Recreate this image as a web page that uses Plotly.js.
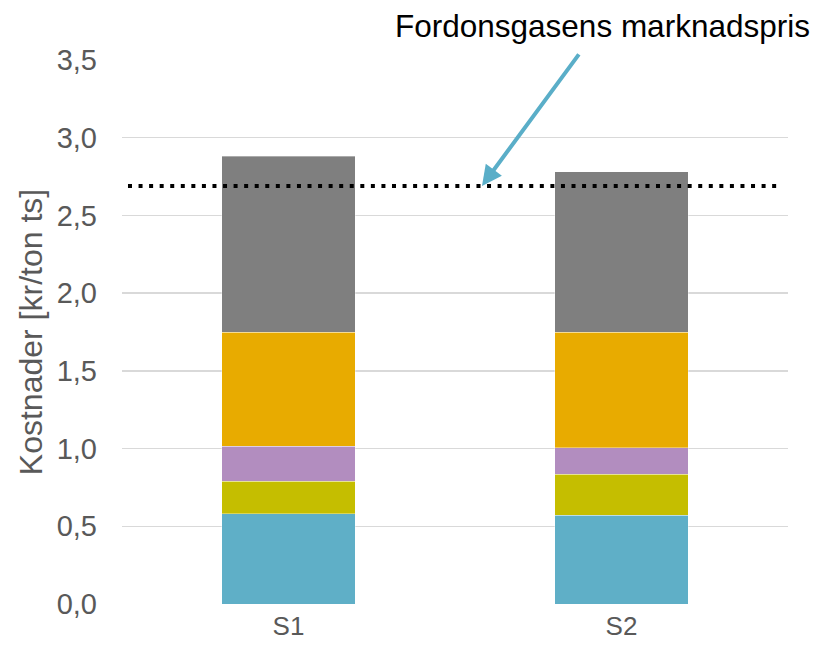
<!DOCTYPE html>
<html>
<head>
<meta charset="utf-8">
<script src="https://cdn.plot.ly/plotly-3.0.1.min.js"></script>
<style>html,body{margin:0;padding:0;background:#fff;}#chart{width:827px;height:652px;}</style>
</head>
<body>
<div id="chart"></div>
<script>
// Data
const categories = ['S1', 'S2'];
const seriesNames = ['Kostnad A', 'Kostnad B', 'Kostnad C', 'Kostnad D', 'Kostnad E'];
const seriesA = [0.58, 0.57];
const seriesB = [0.21, 0.265];
const seriesC = [0.225, 0.17];
const seriesD = [0.735, 0.745];
const seriesE = [1.13, 1.03];
const seriesColors = ['#5FAFC7', '#C5BE00', '#B28DBF', '#E8AB00', '#7F7F7F'];
const marketPrice = 2.69;
const marketLabel = 'Fordonsgasens marknadspris';
const yTickVals = [0, 0.5, 1.0, 1.5, 2.0, 2.5, 3.0, 3.5];
const yTickText = ['0,0', '0,5', '1,0', '1,5', '2,0', '2,5', '3,0', '3,5'];
const yTitle = 'Kostnader [kr/ton ts]';

const allSeries = [seriesA, seriesB, seriesC, seriesD, seriesE];
const traces = allSeries.map((vals, i) => ({
  type: 'bar',
  x: categories,
  y: vals,
  name: seriesNames[i],
  marker: {color: seriesColors[i], line: {color: 'rgba(255,255,255,0.35)', width: 1}},
  width: 0.4,
  hoverinfo: 'y+name'
}));

const layout = {
  width: 827,
  height: 652,
  barmode: 'stack',
  showlegend: false,
  paper_bgcolor: '#ffffff',
  plot_bgcolor: '#ffffff',
  margin: {l: 122, r: 39, t: 60, b: 48},
  font: {family: 'Liberation Sans, Arial, sans-serif', color: '#595959'},
  xaxis: {
    type: 'category',
    range: [-0.5, 1.5],
    showgrid: false,
    showline: false,
    zeroline: false,
    ticks: '',
    tickfont: {size: 26, color: '#595959'},
    ticklabelstandoff: 4
  },
  yaxis: {
    range: [0, 3.5],
    tickvals: yTickVals,
    ticktext: yTickText,
    tickfont: {size: 29, color: '#595959'},
    showgrid: true,
    gridcolor: '#D9D9D9',
    gridwidth: 1.5,
    zeroline: false,
    showline: false,
    ticks: '',
    ticklabelstandoff: 24,
    title: {text: yTitle, font: {size: 32, color: '#595959'}, standoff: 4}
  },
  shapes: [{
    type: 'line',
    xref: 'x', yref: 'y',
    x0: -0.482, x1: 1.47,
    y0: marketPrice, y1: marketPrice,
    line: {color: '#000000', width: 4, dash: '4px,6.56px'}
  }],
  annotations: [
    {
      xref: 'x', yref: 'y',
      x: 0.581, y: marketPrice,
      ax: 98, ay: -133,
      showarrow: true,
      arrowhead: 2,
      arrowsize: 1,
      arrowwidth: 4,
      arrowcolor: '#5AAEC8',
      text: ''
    },
    {
      xref: 'paper', yref: 'paper',
      x: 0.721, y: 1.0625,
      xanchor: 'center', yanchor: 'middle',
      showarrow: false,
      text: marketLabel,
      font: {size: 31.5, color: '#000000', family: 'Liberation Sans, Arial, sans-serif'}
    }
  ]
};

Plotly.newPlot('chart', traces, layout, {displayModeBar: false, staticPlot: true});
</script>
</body>
</html>
